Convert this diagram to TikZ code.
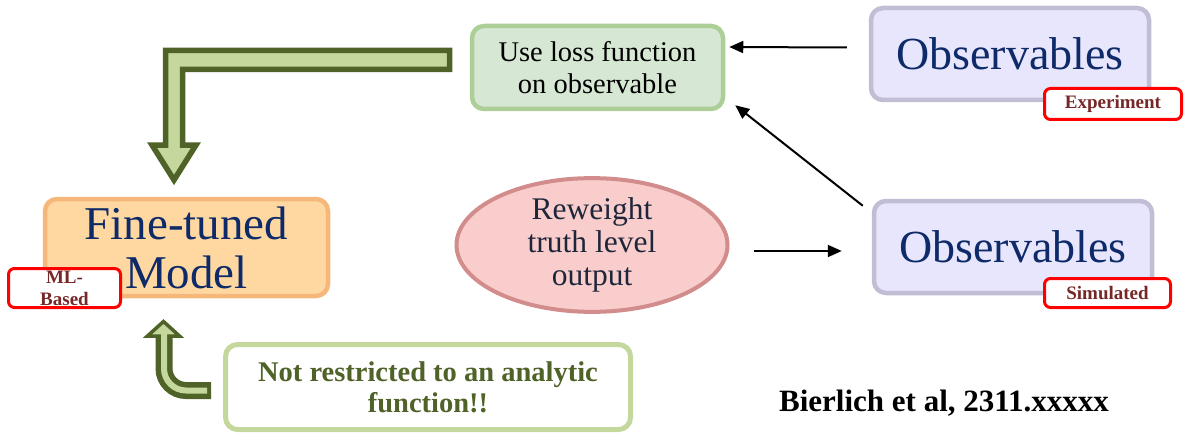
\documentclass[tikz,border=0pt]{standalone}
\usepackage{fontspec}
\setmainfont{Liberation Serif}
\usetikzlibrary{arrows.meta,shapes.geometric}

\definecolor{navy}{RGB}{14,42,104}
\definecolor{inkdark}{RGB}{30,38,58}
\definecolor{tagtext}{RGB}{118,40,40}
\definecolor{olive}{RGB}{79,98,40}
\definecolor{olivelight}{RGB}{196,216,158}
\definecolor{lossfill}{RGB}{214,232,212}
\definecolor{lossline}{RGB}{172,207,152}
\definecolor{obsfill}{RGB}{231,230,252}
\definecolor{obsline}{RGB}{192,189,212}
\definecolor{modelfill}{RGB}{254,216,160}
\definecolor{modelline}{RGB}{246,184,122}
\definecolor{ellfill}{RGB}{248,205,204}
\definecolor{ellline}{RGB}{210,140,140}

\tikzset{
  box/.style={rectangle, rounded corners=12pt, line width=4.5pt, inner sep=0pt, align=center},
  lossbox/.style={box, draw=lossline, fill=lossfill, minimum width=251pt, minimum height=83pt,
    text=black, font=\fontsize{28.5}{32}\selectfont},
  obsbox/.style={box, draw=obsline, fill=obsfill, minimum width=278pt, minimum height=92pt,
    text=navy, font=\fontsize{46}{50}\selectfont},
  modelbox/.style={box, draw=modelline, fill=modelfill, minimum width=283pt, minimum height=97pt,
    text=navy, font=\fontsize{47}{49}\selectfont},
  tag/.style={rectangle, rounded corners=6pt, draw=red, line width=3pt, fill=white, inner sep=0pt,
    align=center, text=tagtext, font=\fontsize{19}{22}\selectfont\bfseries},
  notebox/.style={box, draw=olivelight, fill=white, line width=5pt, minimum width=405pt, minimum height=85pt,
    text=olive, font=\fontsize{28.5}{31}\selectfont\bfseries},
  conn/.style={line width=2pt, black, -{Triangle[length=14pt,width=12pt]}},
  blockarrow/.style={draw=olive, fill=olivelight, line width=5.5pt, line join=miter},
}

\begin{document}
\begin{tikzpicture}[x=1pt,y=-1pt]
\useasboundingbox (0,0) rectangle (1185,433);

% main boxes
\node[lossbox] (loss) at (597.5,67.5) {Use loss function\\on observable};
\node[obsbox] (obs1) at (1010,54) {Observables};
\node[obsbox] (obs2) at (1013,247) {Observables};
\node[modelbox] (model) at (186.5,247.5) {Fine-tuned\\Model};
\node[ellipse, draw=ellline, fill=ellfill, line width=4pt, inner sep=0pt,
      minimum width=271pt, minimum height=122pt, align=center, text=inkdark,
      font=\fontsize{31.5}{33}\selectfont] (ell) at (592,245) {Reweight\\truth level\\output};
\node[notebox] (note) at (428,387) {Not restricted to an analytic\\function!!};

% tags
\node[tag, minimum width=137pt, minimum height=31pt] (tagexp) at (1113,104) {Experiment};
\node[tag, minimum width=126pt, minimum height=29pt] (tagsim) at (1107.5,293) {Simulated};
\node[tag, minimum width=112pt, minimum height=39pt] (tagml) at (64.5,288) {ML-\\Based};

% citation
\node[font=\fontsize{31}{34}\selectfont\bfseries, text=black, inner sep=0pt] (cite) at (944,403) {Bierlich et al, 2311.xxxxx};

% connectors
\draw[conn] ([xshift=-22pt,yshift=6.5pt]obs1.west) -- ([xshift=4pt,yshift=20.5pt]loss.east);
\draw[conn] ([xshift=-9pt,yshift=-7pt]obs2.north west) -- ([xshift=10pt,yshift=6pt]loss.south east);
\draw[conn] ([xshift=24pt,yshift=-6pt]ell.east) -- ([xshift=-30pt,yshift=-4pt]obs2.west);

% bent block arrow from the loss box down to the model
\draw[blockarrow] (449.5,50.5) -- (165.5,50.5) -- (165.5,145) -- (152,145) -- (174,180)
  -- (196,145) -- (182.5,145) -- (182.5,69.5) -- (449.5,69.5) -- cycle;

% curved arrow from the note up to the model
\draw[olive, line width=17pt, rounded corners=22pt] (211,390.5) -- (164,390.5) -- (164,334);
\draw[olive, fill=olivelight, line width=3.5pt, line join=miter] (147.5,336) -- (163.5,321.5) -- (179.5,336) -- cycle;
\draw[olivelight, line width=6pt, rounded corners=22pt] (207,390.5) -- (164,390.5) -- (164,330);
\end{tikzpicture}
\end{document}
